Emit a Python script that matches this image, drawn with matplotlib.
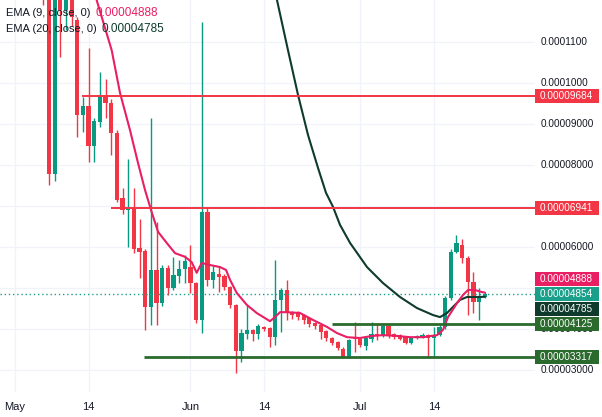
import matplotlib
matplotlib.use("Agg")
import matplotlib.pyplot as plt
from matplotlib.transforms import blended_transform_factory
from matplotlib.patches import Rectangle
import numpy as np

SCALE = 1e-5  # all prices below are in units of 1e-5

# ---------------- data ----------------
days = list(range(5, 84))  # days since May 1
opens = [14.0, 13.2, 7.78, 12.6, 11.78, 12.3, 11.54, 9.22, 9.44, 8.46,
         9.05, 9.71, 9.51, 8.78, 7.20, 6.90, 6.95, 5.98, 5.90, 4.54,
         5.44, 4.63, 5.49, 5.00, 5.29, 5.46, 5.50, 5.12, 4.22, 6.85,
         5.20, 5.34, 5.29, 5.02, 4.58, 3.46, 3.88, 3.98, 3.88, 4.05,
         4.02, 3.80, 4.71, 4.95, 4.41, 4.41, 4.34, 4.27, 4.15, 4.10,
         3.95, 3.78, 3.68, 3.51, 3.32, 3.78, 3.76, 3.59, 3.76, 3.88,
         3.85, 4.07, 3.88, 3.85, 3.80, 3.66, 3.78, 3.80, 3.85, 3.78,
         3.85, 4.05, 4.76, 5.88, 6.05, 5.73, 5.15, 4.66, 4.78]
highs = [14.5, 13.5, 12.9, 12.8, 12.5, 12.4, 11.6, 9.66, 10.85, 9.15,
         10.27, 10.10, 9.60, 8.85, 7.44, 8.15, 7.44, 6.68, 5.95, 9.15,
         6.61, 5.55, 5.55, 5.76, 5.68, 5.80, 6.05, 5.15, 11.49, 6.95,
         5.54, 5.54, 5.34, 5.05, 4.60, 4.00, 4.58, 4.00, 4.12, 4.08,
         4.05, 5.68, 5.00, 5.20, 4.45, 4.45, 4.36, 4.30, 4.18, 4.12,
         3.98, 3.80, 3.70, 3.55, 3.75, 4.17, 3.78, 3.80, 4.17, 4.10,
         4.10, 4.10, 3.90, 3.88, 3.82, 3.80, 3.85, 3.90, 3.88, 4.05,
         4.10, 4.80, 5.95, 6.29, 6.20, 5.78, 5.39, 5.00, 4.90]
lows = [11.90, 7.51, 7.60, 10.63, 11.30, 11.40, 8.68, 8.80, 8.07, 8.07,
        8.93, 9.15, 8.24, 7.10, 6.80, 6.00, 5.85, 5.24, 3.98, 4.10,
        4.10, 4.55, 4.83, 4.95, 5.12, 5.12, 4.88, 4.15, 3.90, 5.05,
        5.00, 4.90, 4.95, 4.50, 2.93, 3.20, 3.76, 3.71, 3.76, 3.95,
        3.56, 3.61, 3.93, 4.22, 4.25, 4.22, 4.12, 4.05, 4.00, 3.76,
        3.71, 3.61, 3.49, 3.30, 3.30, 3.45, 3.55, 3.49, 3.68, 3.73,
        3.80, 3.78, 3.76, 3.73, 3.63, 3.63, 3.75, 3.78, 3.32, 3.32,
        3.83, 4.00, 4.70, 5.85, 5.60, 4.34, 4.39, 4.22, 4.75]
closes = [12.6, 7.78, 12.6, 11.78, 12.3, 11.6, 9.22, 9.44, 8.46, 9.07,
          9.71, 9.51, 8.78, 7.15, 6.90, 6.98, 5.95, 5.88, 4.54, 5.44,
          4.63, 5.49, 5.00, 5.32, 5.46, 5.65, 5.12, 4.22, 6.85, 5.20,
          5.39, 5.27, 5.02, 4.58, 3.46, 3.90, 3.98, 3.88, 4.07, 4.00,
          3.80, 4.71, 4.95, 4.39, 4.34, 4.29, 4.22, 4.12, 4.07, 3.93,
          3.78, 3.66, 3.54, 3.32, 3.73, 3.76, 3.61, 3.78, 3.88, 3.83,
          4.07, 3.85, 3.80, 3.76, 3.66, 3.78, 3.80, 3.85, 3.78, 3.85,
          4.05, 4.76, 5.88, 6.10, 5.73, 5.15, 4.66, 4.78, 4.854]

ema9_x = [12.0, 14.43, 17.08, 18.55, 20.32, 21.73, 22.97, 24.15, 25.27, 26.80,
          28.27, 30.04, 31.22, 32.10, 32.99, 34.45, 36.22, 37.28, 37.99, 39.17,
          40.94, 42.70, 45.05, 45.94, 46.82, 48.00, 50.35, 52.65, 55.12, 56.89,
          58.66, 60.95, 63.07, 65.02, 67.49, 69.79, 72.08, 74.56, 75.62, 76.50,
          78.09, 79.15, 80.04, 81.27, 82.51, 83.0]
ema9_y = [13.2, 12.02, 10.80, 9.76, 8.85, 8.05, 7.39, 6.85, 6.37, 6.10,
          5.85, 5.76, 5.63, 5.37, 5.61, 5.56, 5.51, 5.44, 5.20, 4.88,
          4.59, 4.39, 4.19, 4.29, 4.41, 4.41, 4.39, 4.22, 4.05, 3.90,
          3.80, 3.78, 3.83, 3.85, 3.83, 3.80, 3.80, 3.85, 3.98, 4.29,
          4.63, 4.83, 4.95, 4.95, 4.90, 4.888]

ema20_x = [44.5, 46.29, 48.23, 50.0, 51.77, 53.53, 54.95, 56.18, 57.42, 59.19,
           62.19, 65.02, 68.02, 71.02, 73.85, 75.09, 76.33, 77.39, 78.62, 79.86,
           81.63, 83.0]
ema20_y = [13.0, 12.02, 10.80, 9.71, 8.73, 7.93, 7.32, 6.98, 6.54, 6.10,
           5.51, 5.12, 4.78, 4.51, 4.34, 4.29, 4.39, 4.54, 4.71, 4.78,
           4.78, 4.785]

ema9_last = 4.888
ema20_last = 4.785
last_price = 4.854

red_levels = [9.684, 6.941]
red_starts = [11.8, 17.0]
green_levels = [4.125, 3.317]
green_starts = [56.0, 22.8]

grid_levels = [11, 10, 9, 8, 7, 6, 5, 4, 3]
price_tick_labels = [11, 10, 9, 8, 6, 4, 3]  # the ones not hidden by price boxes
date_ticks = [0, 13, 31, 44, 61, 74]
date_labels = ["May", "14", "Jun", "14", "Jul", "14"]

# ---------------- style ----------------
GREEN = "#089981"
RED = "#F23645"
PINK = "#E91E63"
DARK = "#0e3b2c"
LVL_GREEN = "#2a6a2c"
TEAL = "#1aa08a"
TXT = "#131722"
GRID = "#f0f3fa"
FONT = "Liberation Sans"

W, H = 602, 417
plot_right, plot_bottom = 535, 392
fig = plt.figure(figsize=(W / 100, H / 100), dpi=100)
ax = fig.add_axes([0, (H - plot_bottom) / H, plot_right / W, plot_bottom / H])
ax.set_xlim(-2.65, 91.87)
ax.set_ylim(2.463, 12.024)
xmax = ax.get_xlim()[1]
px_per_unit = plot_bottom / (ax.get_ylim()[1] - ax.get_ylim()[0])

for s in ax.spines.values():
    s.set_visible(False)
ax.set_yticks([])
ax.set_xticks(date_ticks)
ax.set_xticklabels(date_labels, fontfamily=FONT)
ax.tick_params(axis="x", length=0, pad=7, labelsize=8, labelcolor=TXT)

for v in grid_levels:
    ax.axhline(v, color=GRID, lw=0.9, zorder=0)
for d in date_ticks:
    ax.axvline(d, color=GRID, lw=0.9, zorder=0)

# candles
o = np.array(opens); c = np.array(closes)
hi = np.array(highs); lo = np.array(lows)
up = c >= o
cols = np.where(up, GREEN, RED)
ax.vlines(days, lo, hi, colors=cols, lw=1.0, zorder=2)
ax.bar(days, np.maximum(np.abs(c - o), 0.04), bottom=np.minimum(o, c),
       width=0.74, color=cols, linewidth=0, zorder=3)

# EMAs
ax.plot(ema20_x, ema20_y, color=DARK, lw=1.5, zorder=5, solid_capstyle="round")
ax.plot(ema9_x, ema9_y, color=PINK, lw=1.5, zorder=6, solid_capstyle="round")

# level rays
for lv, st in zip(red_levels, red_starts):
    ax.hlines(lv, st, xmax, color=RED, lw=1.4, zorder=7)
for lv, st in zip(green_levels, green_starts):
    ax.hlines(lv, st, xmax, color=LVL_GREEN, lw=2.0, zorder=7)
ax.axhline(last_price, color=TEAL, lw=1.0, ls=(0, (1, 2)), zorder=4)


def fmt(v):
    val = v * SCALE
    return f"{val:.7f}" if val >= 1e-4 - 1e-12 else f"{val:.8f}"


tr = blended_transform_factory(ax.transAxes, ax.transData)
for v in price_tick_labels:
    ax.text(1.0 + 6 / plot_right, v, fmt(v), transform=tr, ha="left", va="center",
            fontsize=7.2, color=TXT, fontfamily=FONT, clip_on=False, zorder=1)

# price boxes: (value, colour, vertical shift in px for de-overlap)
boxes = [(red_levels[0], RED, 0), (red_levels[1], RED, 0),
         (ema9_last, PINK, 13.5), (last_price, TEAL, 0),
         (ema20_last, DARK, -12.5), (green_levels[0], LVL_GREEN, 0),
         (green_levels[1], LVL_GREEN, 0)]
bw = 64 / plot_right
bh = 14 / px_per_unit
for v, col, shift in boxes:
    yc = v + shift / px_per_unit
    ax.add_patch(Rectangle((1.0, yc - bh / 2), bw, bh, transform=tr,
                           facecolor=col, edgecolor="none", clip_on=False, zorder=10))
    ax.text(1.0 + 5 / plot_right, yc, fmt(v), transform=tr, ha="left", va="center",
            fontsize=7.2, color="white", fontfamily=FONT, clip_on=False, zorder=11)

# legend
renderer = fig.canvas.get_renderer()
for row, (name, val, col) in enumerate([("EMA (9, close, 0)", ema9_last, PINK),
                                         ("EMA (20, close, 0)", ema20_last, DARK)]):
    ypx = 13 + 16.5 * row
    t = fig.text(6 / W, 1 - ypx / H, name, fontsize=8, color=TXT,
                 fontfamily=FONT, va="center", ha="left", zorder=20)
    x1 = t.get_window_extent(renderer).x1
    fig.text((x1 + 5) / W, 1 - ypx / H, fmt(val), fontsize=8.5, color=col,
             fontfamily=FONT, va="center", ha="left", zorder=20)

fig.savefig("out.png", dpi=100, facecolor="white")
